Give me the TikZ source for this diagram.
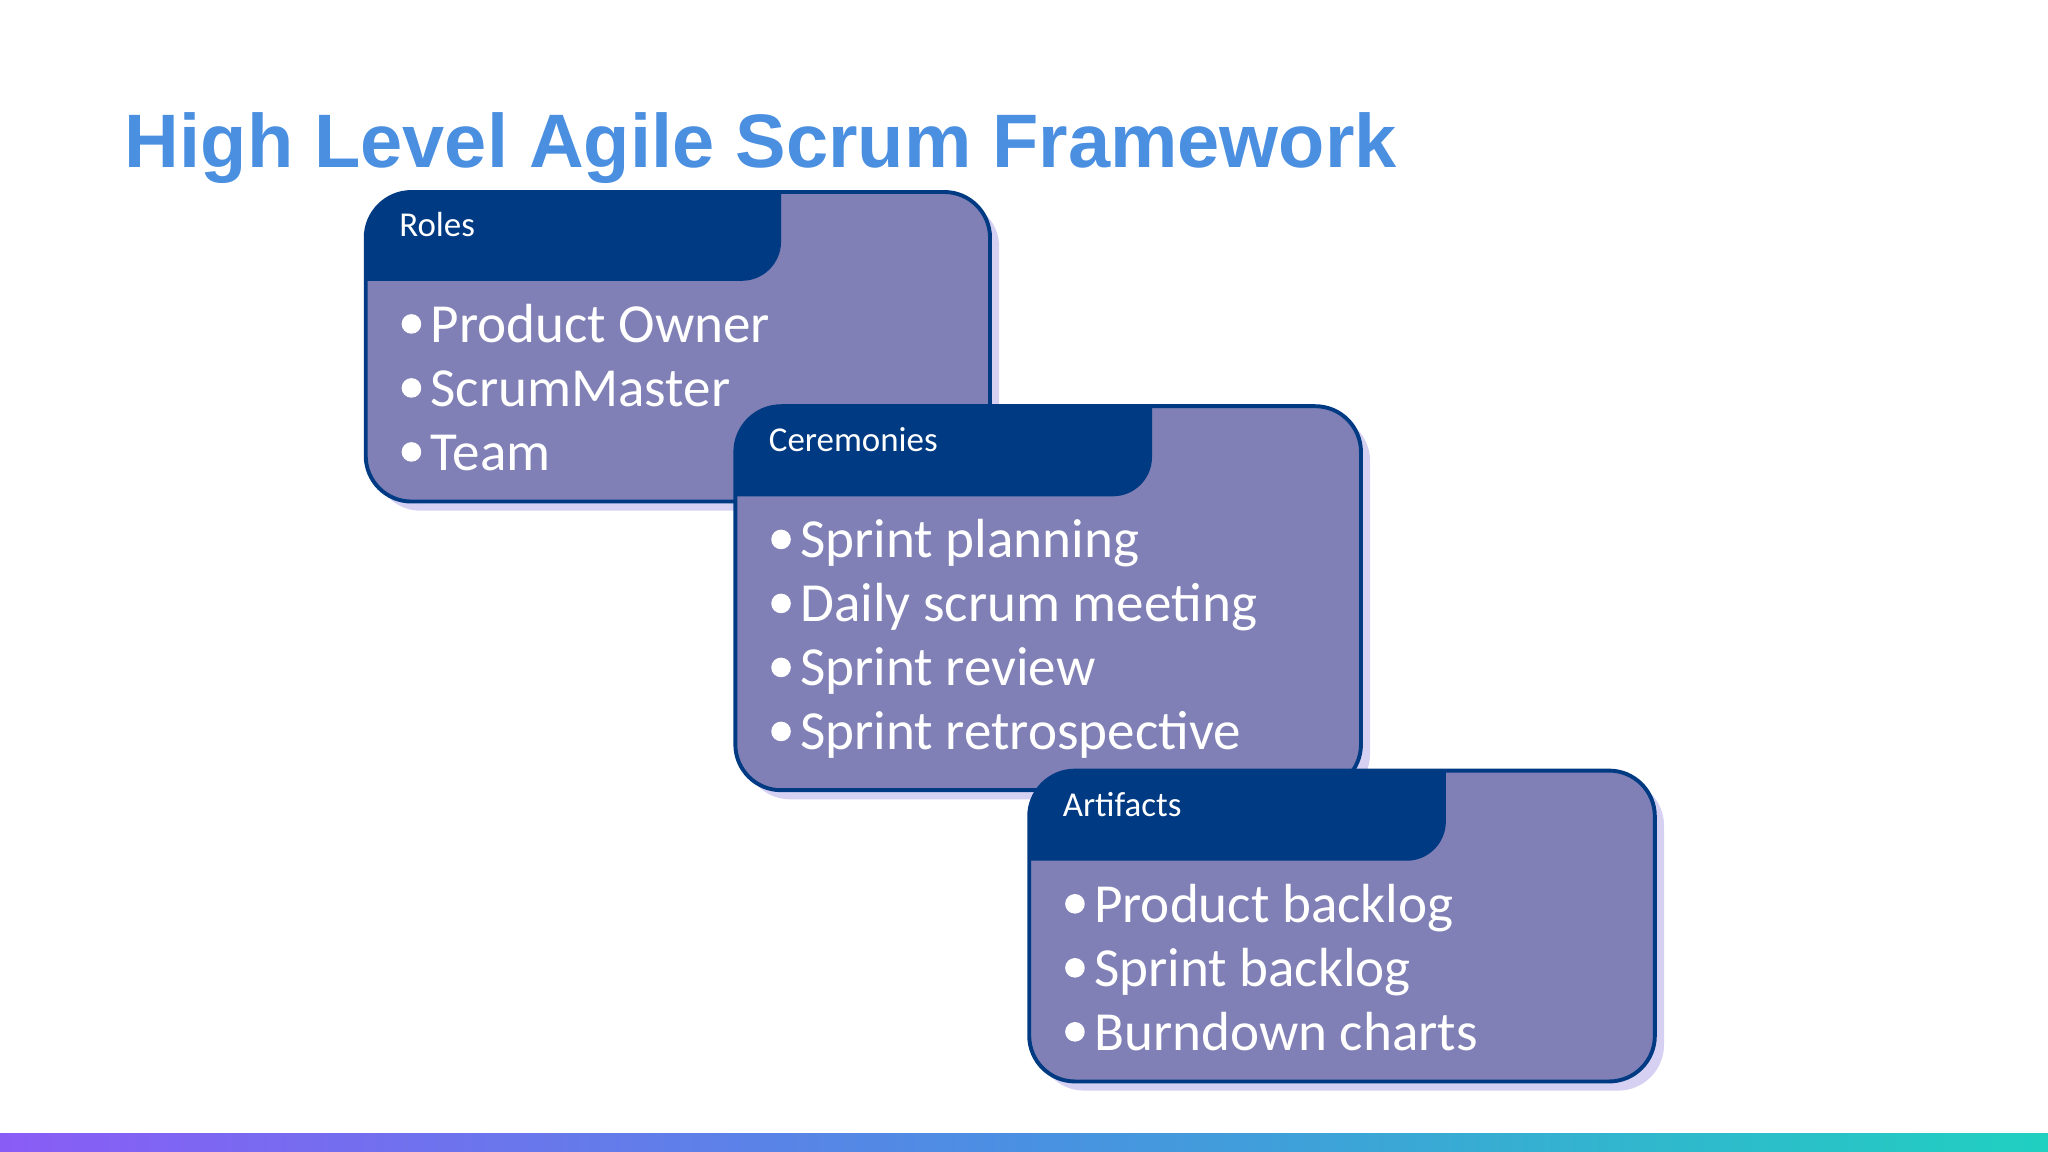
\documentclass[tikz,border=0pt]{standalone}
\usepackage{fontspec}
\setmainfont{Carlito}
\newfontfamily\titlefont{Liberation Sans}
\definecolor{navy}{HTML}{003A82}
\definecolor{lav}{HTML}{8080B6}
\definecolor{shad}{HTML}{D6D0F2}
\definecolor{ttl}{HTML}{4A8FE0}
\definecolor{ga}{HTML}{8A5CF6}
\definecolor{gb}{HTML}{4A90E2}
\definecolor{gc}{HTML}{20D0C0}
\tikzset{
 item/.style={anchor=base west,text=white,font=\fontsize{12}{14}\selectfont,inner sep=0pt},
 head/.style={anchor=base west,text=white,font=\fontsize{7.6}{9}\selectfont,inner sep=0pt},
 dot/.style={circle,fill=white,inner sep=0pt,minimum size=0.15cm}
}
\newcommand{\mybox}[6]{% x0,y0,x1,y1,hx,hy
 \fill[shad,rounded corners=0.35cm] (#1+7,#2+7) rectangle (#3+7,#4+7);
 \fill[lav,rounded corners=0.35cm] (#1,#2) rectangle (#3,#4);
 \begin{scope}
 \clip[rounded corners=0.35cm] (#1,#2) rectangle (#3,#4);
 \fill[navy] (#1-5,#2-5) -- (#5,#2-5) [rounded corners=0.3cm] -- (#5,#6) [sharp corners] -- (#1-5,#6) -- cycle;
 \end{scope}
 \draw[navy,line width=0.85pt,rounded corners=0.35cm] (#1,#2) rectangle (#3,#4);
}
\begin{document}
\begin{tikzpicture}[x=0.01cm,y=-0.01cm]
\useasboundingbox (0,0) rectangle (1568,882);
\shade[left color=ga,right color=gc,middle color=gb] (0,868) rectangle (1568,882);
\node[anchor=base west,text=ttl,inner sep=0pt,font=\titlefont\bfseries\fontsize{16.5}{18}\selectfont] (title) at (95,128) {High Level Agile Scrum Framework};
% Roles
\mybox{280}{147}{758}{384}{598}{215}
\node[head] (roles) at (305,181) {Roles};
\foreach \t/\y [count=\i] in {Product Owner/262,ScrumMaster/311,Team/360}{
 \node[dot] (rd\i) at (315,\y-14) {};
 \node[item] (r\i) at (329,\y) {\t};}
% Ceremonies
\mybox{563}{311}{1042}{605}{882}{380}
\node[head] (cer) at (588,346) {Ceremonies};
\foreach \t/\y [count=\i] in {Sprint planning/427,Daily scrum meeting/476,Sprint review/525,Sprint retrospective/574}{
 \node[dot] (cd\i) at (598,\y-14) {};
 \node[item] (c\i) at (612,\y) {\t};}
% Artifacts
\mybox{788}{590}{1267}{828}{1107}{659}
\node[head] (art) at (813,625) {Artifacts};
\foreach \t/\y [count=\i] in {Product backlog/706,Sprint backlog/755,Burndown charts/804}{
 \node[dot] (ad\i) at (823,\y-14) {};
 \node[item] (a\i) at (837,\y) {\t};}
\end{tikzpicture}
\end{document}
